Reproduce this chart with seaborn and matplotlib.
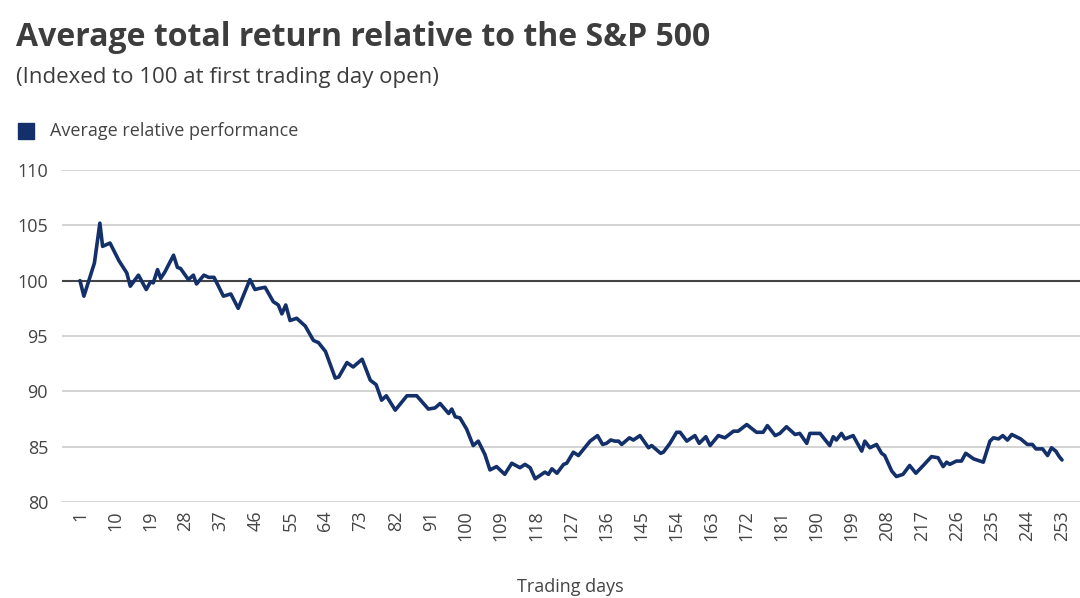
import matplotlib
matplotlib.use("Agg")
import matplotlib.pyplot as plt
import seaborn as sns
import pandas as pd

days = [1, 2.0, 4.7, 6.1, 6.8, 8.7, 11.0, 13.0, 13.9, 16.0, 18.0, 19.1, 19.8, 20.9, 21.7, 22.8, 25.0, 26.0, 26.8,
        28.8, 30.1, 30.9, 32.8, 34, 35.4, 37.8, 39.7, 41.6, 44.6, 45.9, 47, 48.5, 50.6, 51.9, 52.8, 53.8, 54.9,
        56.6, 58.8, 60.9, 62.2, 64.0, 66.5, 67.4, 69.5, 71.1, 73.4, 75.5, 77.0, 78.4, 79.6, 81.9, 84.9, 87.4,
        90.4, 92.1, 93.4, 95.6, 96.4, 97.3, 98.5, 100.2, 101.9, 103.2, 104.9, 106.2, 107.9, 110.0, 111.8, 113.9,
        115.2, 116.5, 117.8, 119.5, 120.3, 121.2, 122.1, 123.4, 125.1, 125.9, 127.6, 128.9, 131.9, 133.8, 135.1,
        136.1, 137.2, 138.3, 139.2, 140.0, 142.0, 143.0, 144.7, 146.9, 147.7, 150.0, 150.7, 152.4, 154.1, 155.0,
        156.7, 158.8, 159.9, 161.6, 162.7, 164.8, 166.5, 168.7, 169.9, 172.1, 174.6, 176.3, 177.4, 179.4, 180.6,
        182.3, 184.5, 185.7, 187.5, 188.3, 190.9, 193.4, 194.3, 195.1, 196.4, 197.3, 199.4, 201.6, 202.4, 203.7,
        205.4, 206.7, 207.5, 209.3, 210.5, 212.2, 213.9, 215.5, 217.4, 219.5, 221.2, 222.5, 223.4, 224.2, 225.9,
        227.2, 228.3, 230.3, 232.8, 234.5, 235.4, 236.7, 237.8, 239.0, 240.1, 242.4, 244.1, 245.4, 246.3, 248.0,
        249.3, 250.3, 251.4, 252.3, 253]
values = [100, 98.6, 101.6, 105.2, 103.1, 103.4, 101.8, 100.7, 99.5, 100.5, 99.2, 99.9, 99.8, 101, 100.2, 100.8,
          102.3, 101.2, 101.1, 100.1, 100.5, 99.7, 100.5, 100.3, 100.3, 98.6, 98.8, 97.5, 100.1, 99.2, 99.3, 99.4,
          98.1, 97.8, 97.0, 97.8, 96.4, 96.6, 95.9, 94.6, 94.4, 93.6, 91.2, 91.3, 92.6, 92.2, 92.9, 91.0, 90.6,
          89.2, 89.6, 88.3, 89.6, 89.6, 88.4, 88.5, 88.9, 88.0, 88.4, 87.7, 87.6, 86.6, 85.1, 85.5, 84.3, 82.9,
          83.2, 82.5, 83.5, 83.1, 83.4, 83.1, 82.1, 82.5, 82.7, 82.5, 83.0, 82.6, 83.4, 83.5, 84.5, 84.2, 85.5,
          86.0, 85.2, 85.3, 85.6, 85.5, 85.5, 85.2, 85.8, 85.6, 86.0, 84.9, 85.1, 84.4, 84.5, 85.3, 86.3, 86.3,
          85.5, 86.0, 85.3, 85.9, 85.1, 86.0, 85.8, 86.4, 86.4, 87.0, 86.3, 86.3, 86.9, 86.0, 86.2, 86.8, 86.1,
          86.2, 85.3, 86.2, 86.2, 85.1, 85.9, 85.6, 86.2, 85.7, 86.0, 84.6, 85.5, 84.9, 85.2, 84.4, 84.2, 82.8,
          82.3, 82.5, 83.3, 82.6, 83.3, 84.1, 84.0, 83.2, 83.6, 83.4, 83.7, 83.7, 84.4, 83.9, 83.6, 85.5, 85.8,
          85.7, 86.0, 85.6, 86.1, 85.7, 85.2, 85.2, 84.8, 84.8, 84.2, 84.9, 84.6, 84.1, 83.8]
xticks = list(range(1, 254, 9))
yticks = [80, 85, 90, 95, 100, 105, 110]

sns.set_style("white")
plt.rcParams['font.family'] = ['Open Sans', 'DejaVu Sans']

df = pd.DataFrame({"day": days, "value": values})
fig = plt.figure(figsize=(10.8, 5.98), dpi=100)
ax = fig.add_axes([62/1080, 1-502/598, 1-62/1080, (502-170)/598])
for y in yticks:
    ax.axhline(y, color="#cccccc", lw=1.2, zorder=0)
ax.axhline(100, color="#444444", lw=1.5, zorder=1)
sns.lineplot(data=df, x="day", y="value", ax=ax, color="#14306b", lw=2.6, zorder=3)
ax.set_xlim(1 - 18/3.897, 253 + 18/3.897)
ax.set_ylim(80, 110)
ax.set_xticks(xticks)
ax.set_xticklabels([str(t) for t in xticks], rotation=90, fontsize=13, color="#444444")
ax.set_yticks(yticks)
ax.set_yticklabels([str(t) for t in yticks], fontsize=13, color="#444444")
ax.tick_params(axis="both", length=0, pad=6)
ax.yaxis.set_tick_params(pad=10)
for s in ax.spines.values():
    s.set_visible(False)
ax.set_xlabel("")
ax.set_ylabel("")
fig.text(570/1080, 1-587/598, "Trading days", ha="center", va="center", fontsize=13, color="#444444")
fig.text(16/1080, 1-37/598, "Average total return relative to the S&P 500", fontsize=23, fontweight="bold",
         color="#3d3d3d", va="center")
fig.text(16/1080, 1-77/598, "(Indexed to 100 at first trading day open)", fontsize=16, color="#3d3d3d", va="center")
fig.patches.append(plt.Rectangle((18/1080, 1-139/598), 16/1080, 16/598, transform=fig.transFigure,
                                 color="#14306b", figure=fig))
fig.text(50/1080, 1-131/598, "Average relative performance", fontsize=13, color="#444444", va="center")
fig.savefig("out.png", dpi=100)
